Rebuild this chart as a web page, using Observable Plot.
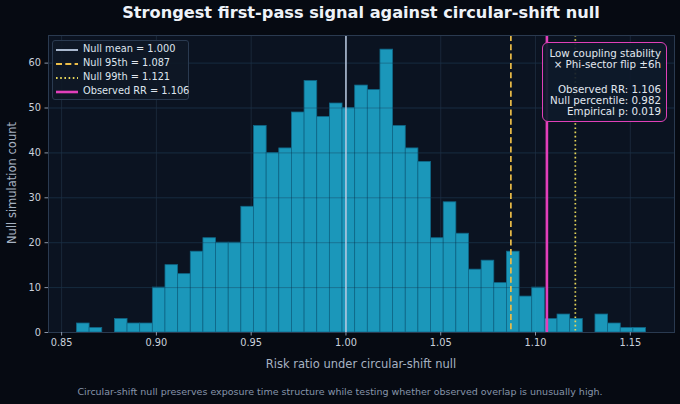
<!DOCTYPE html>
<html>
<head>
<meta charset="utf-8">
<script src="https://cdn.jsdelivr.net/npm/d3@7"></script>
<script src="https://cdn.jsdelivr.net/npm/@observablehq/plot@0.6"></script>
<style>
  html, body { margin: 0; padding: 0; background: #060a12; }
  #wrap { position: relative; width: 680px; height: 404px; background: #060a12; font-family: "DejaVu Sans", sans-serif; overflow: hidden; }
  #title { position: absolute; left: 48px; width: 626px; top: 3px; text-align: center; font-weight: bold; font-size: 16.2px; color: #eef2f8; white-space: nowrap; }
  #xlabel { position: absolute; left: 48px; width: 626px; top: 357px; text-align: center; font-size: 11.5px; color: #a6b2c2; }
  #ylabel { position: absolute; left: 12px; top: 183px; transform: translate(-50%, -50%) rotate(-90deg); white-space: nowrap; font-size: 11.5px; color: #a6b2c2; }
  #caption { position: absolute; left: 0; width: 680px; top: 386px; text-align: center; font-size: 9.5px; color: #8795aa; white-space: nowrap; }
  #legend { position: absolute; left: 52px; top: 40px; width: 137px; height: 60px; background: rgba(14,24,38,0.9); border: 1px solid #2a3a50; border-radius: 3px; box-sizing: border-box; }
  .li { position: absolute; left: 2px; height: 12px; font-size: 9.8px; color: #dfe5ee; white-space: nowrap; }
  .li svg { position: absolute; left: 0; top: 0; }
  .li span { position: absolute; left: 28px; top: -1px; }
  #note { position: absolute; left: 542px; top: 42px; width: 125px; height: 80px; background: rgba(14,26,42,0.92); border: 1.5px solid #e040b8; border-radius: 6px; box-sizing: border-box; }
  #note div { position: absolute; right: 5px; font-size: 10.3px; color: #e2e8f0; white-space: nowrap; text-align: right; }
</style>
</head>
<body>
<div id="wrap">
  <div id="chart"></div>
  <div id="title"></div>
  <div id="xlabel"></div>
  <div id="ylabel"></div>
  <div id="caption"></div>
  <div id="legend"></div>
  <div id="note"></div>
</div>
<script>
// ---- data ----
const titleText = "Strongest first-pass signal against circular-shift null";
const xLabelText = "Risk ratio under circular-shift null";
const yLabelText = "Null simulation count";
const captionText = "Circular-shift null preserves exposure time structure while testing whether observed overlap is unusually high.";

const binLow = 0.8581;
const binHigh = 1.1583;
const binCounts = [2, 1, 0, 3, 2, 2, 10, 15, 13, 18, 21, 20, 20, 28, 46, 40, 41, 49, 56, 48, 51, 50, 55, 54, 63, 46, 41, 38, 21, 29, 22, 14, 16, 11, 18, 8, 10, 3, 4, 3, 0, 4, 2, 1, 1];

const refNames = ["Null mean", "Null 95th", "Null 99th", "Observed RR"];
const refValues = [1.000, 1.087, 1.121, 1.106];
const refColors = ["#bccbe2", "#ecbd48", "#e6d65a", "#e23fba"];
const refDash = [null, "6,3.3", "1.6,2.6", null];
const refWidths = [1.5, 1.7, 1.7, 2.6];

const noteLines = ["Low coupling stability", "× Phi-sector flip ±6h", "", "Observed RR: 1.106", "Null percentile: 0.982", "Empirical p: 0.019"];

const xTicks = [0.85, 0.90, 0.95, 1.00, 1.05, 1.10, 1.15];
const yTicks = [0, 10, 20, 30, 40, 50, 60];

// ---- derived tables ----
const nb = binCounts.length;
const bw = (binHigh - binLow) / nb;
const bins = binCounts.map((c, i) => ({x1: binLow + i * bw, x2: binLow + (i + 1) * bw, count: c}));
const refs = refNames.map((n, i) => ({name: n, value: refValues[i], color: refColors[i], dash: refDash[i], width: refWidths[i]}));

const span = binHigh - binLow;
const xDomain = [binLow - 0.05 * span, binHigh + 0.05 * span];
const yDomain = [0, d3.max(binCounts) * 1.05];

const gridColor = "#223247";

const plot = Plot.plot({
  width: 680,
  height: 404,
  marginTop: 35,
  marginBottom: 72,
  marginLeft: 48,
  marginRight: 6,
  style: {background: "transparent", color: "#c9d1dc", fontFamily: "DejaVu Sans, sans-serif", fontSize: "9.8px"},
  x: {domain: xDomain, ticks: xTicks, tickFormat: d3.format(".2f"), label: null},
  y: {domain: yDomain, ticks: yTicks, label: null},
  marks: [
    Plot.frame({fill: "#0b1321", stroke: null}),
    Plot.gridX(xTicks, {stroke: gridColor, strokeOpacity: 0.8, strokeWidth: 0.8}),
    Plot.gridY(yTicks, {stroke: gridColor, strokeOpacity: 0.8, strokeWidth: 0.8}),
    Plot.rectY(bins, {x1: "x1", x2: "x2", y: "count", fill: "#1da3c8", fillOpacity: 0.92, stroke: "#0f6787", strokeWidth: 0.8, inset: 0}),
    Plot.gridY(yTicks, {stroke: "#12314a", strokeOpacity: 0.45, strokeWidth: 0.8}),
    ...refs.map(r => Plot.ruleX([r.value], {stroke: r.color, strokeWidth: r.width, strokeDasharray: r.dash})),
    Plot.frame({stroke: "#2a3a50", strokeWidth: 1}),
    Plot.axisX({ticks: xTicks, tickFormat: d3.format(".2f"), tickSize: 3.5, tickPadding: 3, label: null, stroke: "#8a96a8"}),
    Plot.axisY({ticks: yTicks, tickSize: 3.5, tickPadding: 4, label: null, stroke: "#8a96a8"})
  ]
});
document.getElementById("chart").appendChild(plot);

document.getElementById("title").textContent = titleText;
document.getElementById("xlabel").textContent = xLabelText;
document.getElementById("ylabel").textContent = yLabelText;
document.getElementById("caption").textContent = captionText;

// legend
const legend = document.getElementById("legend");
refs.forEach((r, i) => {
  const row = document.createElement("div");
  row.className = "li";
  row.style.top = (3 + i * 14) + "px";
  const dash = r.dash ? ` stroke-dasharray="${r.dash}"` : "";
  row.innerHTML = `<svg width="24" height="12"><line x1="1" x2="23" y1="6" y2="6" stroke="${r.color}" stroke-width="${Math.max(r.width, 1.8)}"${dash}/></svg><span>${r.name} = ${r.value.toFixed(3)}</span>`;
  legend.appendChild(row);
});

// annotation
const note = document.getElementById("note");
const lineY = [3.5, 14.5, 25.5, 39.5, 50.5, 61.5];
noteLines.forEach((t, i) => {
  if (!t) return;
  const d = document.createElement("div");
  d.style.top = lineY[i] + "px";
  d.textContent = t;
  note.appendChild(d);
});
</script>
</body>
</html>
